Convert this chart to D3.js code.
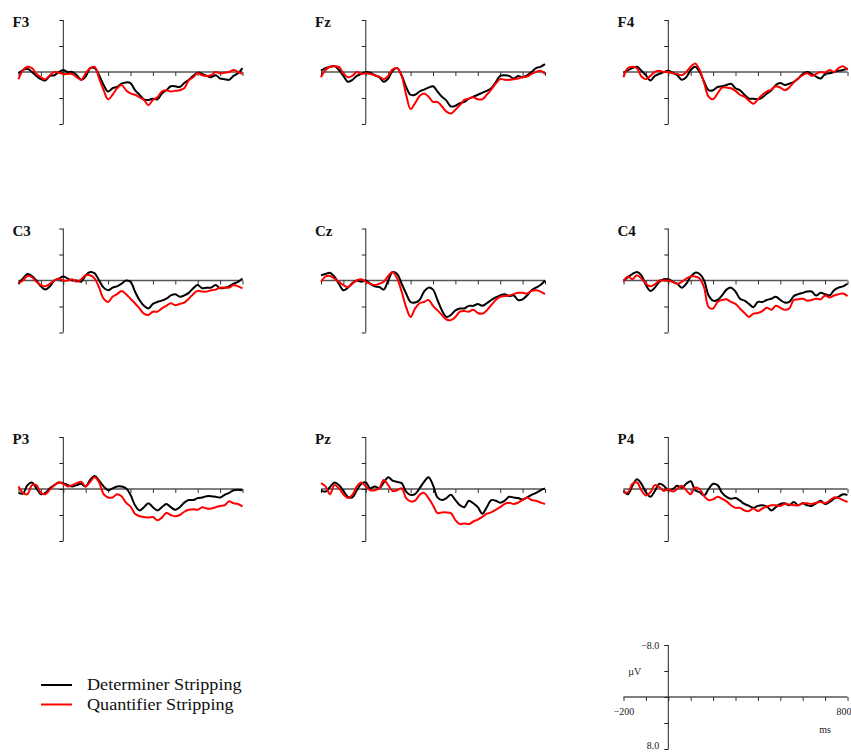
<!DOCTYPE html>
<html>
<head>
<meta charset="utf-8">
<script src="https://cdn.jsdelivr.net/npm/d3@7"></script>
<style>
  body { margin: 0; background: #fff; }
  svg { display: block; font-family: "Liberation Serif", "DejaVu Serif", serif; }
</style>
</head>
<body>
<div id="chart"></div>
<script>
// time points, -200 .. 800 ms every 20 ms
const times = d3.range(-200, 801, 20);

const channels = ['F3', 'Fz', 'F4', 'C3', 'Cz', 'C4', 'P3', 'Pz', 'P4'];
const seriesNames = ['Determiner Stripping', 'Quantifier Stripping'];
const seriesColors = ['#000000', '#ff0000'];

// µV values (negative plotted up), one array per channel and condition
const detF3 = [0.2,-0.3,-0.5,0,0.6,1.1,1.3,0.6,0.5,0,-0.3,0,0,0.5,1.2,0.7,-0.6,-0.6,0.5,2.0,3.0,2.5,2.3,1.8,1.6,1.7,2.8,3.5,4.2,4.3,4.1,4.2,3.3,2.8,2.2,2.2,2.3,1.7,1.2,0.6,0.1,0.3,0.6,0.8,0.5,1.0,1.1,1.2,0.6,0.2,-0.6];
const quaF3 = [1.1,-0.3,-0.8,-0.6,0.3,0.8,1.1,0.5,0,0.1,0.3,0.3,0.3,0.8,1.2,0.2,-0.6,-0.8,1.0,2.8,4.2,3.5,2.5,2.0,2.8,3.3,3.5,3.9,4.3,5.1,4.3,3.9,3.0,2.8,3.0,2.9,2.8,2.5,1.3,0.8,0.2,0.5,0.6,0.5,0,0.2,0.1,0,-0.3,0,0.3];
const detFz = [-0.2,-0.6,-0.8,-0.9,-0.3,0.6,1.5,1.2,0.6,0.3,0,0.1,0.5,0.8,1.5,1.0,-0.2,-0.6,0.5,2.3,3.5,3.5,3.0,2.7,2.4,2.2,3.0,3.8,4.4,5.3,5.2,4.8,4.6,4.1,3.8,3.5,3.2,2.9,2.5,1.6,0.6,0.5,0.6,1.0,0.6,0.8,0.5,0,-0.6,-0.8,-1.2];
const quaFz = [0.8,-0.3,-0.8,-0.9,-0.8,0.2,0.8,0.6,0,0.3,0.2,0.3,0.5,0.7,1.1,0.6,-0.4,-0.6,0.6,3.5,5.7,4.8,3.7,3.3,3.8,4.6,4.6,5.3,6.1,6.4,5.8,5.1,4.3,4.1,3.9,4.2,4.2,3.5,2.7,1.8,1.1,1.2,1.2,1.1,1.0,0.8,0.7,0.3,0,-0.2,0.3];
const detF4 = [0.1,-0.3,-0.6,-0.8,-0.2,0.5,1.3,0.6,0.3,0,-0.2,0.1,0.5,1.2,0.8,-0.3,-0.8,0,1.5,2.8,2.8,2.3,2.2,2.0,1.8,2.5,2.8,3.5,4.1,4.1,4.2,3.9,3.3,2.8,2.0,1.7,2.0,1.8,1.5,1.0,0.3,0,0.3,0.7,1.0,0.3,0.2,0,-0.2,-0.3,-0.6];
const quaF4 = [0.8,-0.6,-0.8,-0.6,0.7,1.1,0.6,0,-0.2,0,0,0.2,0.3,0.5,0,-0.8,-1.3,-0.3,1.7,3.8,4.2,3.3,2.4,2.4,2.5,2.9,3.5,3.8,4.4,4.9,4.2,3.5,3.0,2.7,2.2,2.4,2.8,2.4,1.6,1.0,0.5,0.2,0.6,0.3,0,0.1,-0.3,0,-0.6,-0.9,-0.3];
const detC3 = [0.5,-0.3,-1.0,-0.7,0,0.9,1.4,0.9,0,-0.3,-0.6,-0.3,0,0,0.2,-0.8,-1.3,-1.1,0,1.1,1.5,1.1,0.9,0.5,0,0.2,1.7,3.0,3.9,4.3,3.6,3.3,3.1,2.8,2.3,2.1,2.5,2.3,1.9,1.2,0.7,1.2,1.1,1.1,0.7,1.2,1.1,0.9,0.5,0.2,-0.3];
const quaC3 = [0.4,0,-0.7,-0.5,0.2,0.7,0.9,0.5,0,-0.3,0,0,-0.2,0.2,-0.2,-0.8,-0.8,-0.3,1.1,2.8,3.3,2.5,2.1,1.6,2.1,2.8,3.5,4.3,5.1,5.3,4.8,4.8,4.3,3.9,3.5,3.8,3.6,3.4,2.8,2.1,1.6,1.7,1.7,1.5,1.4,1.1,1.1,1.1,0.7,0.9,1.2];
const detCz = [-0.8,-1.0,-1.2,-0.6,0.5,1.5,1.1,0.4,0,0.2,0,0.5,0.9,1.0,1.4,0,-1.3,-1.0,0.5,2.0,3.3,3.4,3.0,1.7,1.1,1.4,3.0,4.6,5.6,5.3,4.6,4.3,4.3,3.9,3.9,3.6,3.9,3.5,3.0,2.6,2.3,2.1,2.4,2.3,3.0,2.9,2.3,1.5,1.1,0.7,0];
const quaCz = [0.2,-0.6,-0.7,-0.3,0.2,0.7,1.0,0.5,0,-0.2,0.2,0.5,0.7,0.5,0.2,-0.7,-1.3,-0.3,1.7,4.1,5.6,4.3,3.5,3.3,3.0,3.9,4.6,5.3,6.0,6.1,5.6,4.8,4.7,4.8,4.5,5.0,5.1,4.6,3.8,3.0,2.5,2.4,2.3,2.1,1.9,1.9,2.0,1.6,1.5,1.7,2.1];
const detC4 = [0,-0.5,-1.0,-1.3,-0.8,0.7,1.6,1.1,0.2,-0.2,-0.2,0.2,0.5,1.1,0.5,-0.6,-1.2,-1.0,0,2.3,3.1,3.0,2.3,1.4,1.1,1.7,2.8,3.1,3.6,4.1,3.3,3.3,3.0,2.8,2.5,3.0,3.4,3.3,2.4,2.1,1.9,1.7,1.7,2.3,1.9,2.1,2.3,1.5,1.1,0.9,0.5];
const quaC4 = [0.2,-0.6,-0.2,-0.8,-0.3,0.5,0.9,0.6,0,0,0,0.2,0.5,0.2,-0.3,-0.6,-0.6,-0.3,1.1,4.1,4.3,3.3,3.0,2.9,3.3,3.6,4.3,5.0,5.6,5.1,5.0,4.7,4.2,4.5,3.9,4.2,4.5,4.3,3.0,2.9,2.8,3.1,3.0,2.8,2.9,2.3,2.6,2.3,2.1,2.0,2.4];
const detP3 = [0.6,0.7,-0.6,-1.0,-0.1,0.8,0.6,-0.1,-0.6,-1.0,-0.9,-0.6,-0.4,-0.6,-0.8,-0.4,-1.4,-2.0,-1.3,-0.4,0.2,-0.1,-0.4,-0.4,-0.1,0.9,2.5,3.3,2.8,2.2,2.8,3.3,2.8,2.3,2.8,3.2,2.8,2.1,1.7,1.7,1.4,1.3,1.1,1.1,1.2,1.3,0.9,0.6,0.2,0.1,0.2];
const quaP3 = [-0.4,0.6,0.8,-0.6,-0.6,0.6,0.8,0.1,-0.6,-1.0,-0.8,-0.4,-0.6,-0.9,-1.1,-0.4,-1.1,-1.8,-1.0,0.8,1.3,1.3,0.8,1.1,2.1,2.7,3.8,4.2,4.3,4.4,4.3,4.8,4.4,3.7,4.0,4.2,4.0,3.5,3.2,3.1,3.2,2.8,3.0,3.0,2.8,2.6,2.5,1.9,2.2,2.3,2.7];
const detPz = [0.2,0.4,-0.3,-1.0,-0.6,0.3,1.2,1.3,0.2,-0.8,-1.0,-0.1,-0.4,-0.1,-1.0,-1.8,-1.3,-1.1,-0.9,0.4,0.9,0.8,-0.1,-1.1,-1.8,-0.6,1.3,1.7,1.4,0.9,1.7,2.5,2.8,1.8,2.2,2.8,3.8,2.8,1.7,1.8,2.1,1.8,1.2,1.3,1.4,1.6,1.3,0.9,0.6,0.2,-0.1];
const quaPz = [-0.9,-0.4,0.8,-0.6,-0.1,0.8,1.4,0.9,-0.4,-1.0,-0.4,0.2,0.2,-0.1,-1.4,-0.6,0.3,0.2,-0.1,1.4,1.9,1.8,0.9,0.6,1.4,2.5,3.7,3.6,3.6,3.7,4.8,5.4,5.3,5.4,5.0,4.7,4.3,3.8,3.6,3.2,2.8,2.3,2.1,2.3,2.1,1.7,1.3,1.7,1.8,2.1,2.3];
const detP4 = [0.3,0.8,-0.5,-1.5,-0.8,0.5,1.2,0.3,-0.8,-0.5,0.2,0,-0.5,-0.2,-0.8,-1.2,0.2,0.5,1.0,0,-0.8,-0.6,0.6,1.2,1.5,1.4,1.8,2.3,2.6,2.9,2.6,2.5,2.7,3.3,2.8,2.3,2.2,2.5,2.0,2.5,2.2,2.5,2.6,2.2,1.8,2.3,2.0,1.5,1.2,0.8,0.9];
const quaP4 = [0.5,0.5,-0.8,-1.0,0.2,1.0,0.5,-0.6,-0.3,0.3,0,0.4,0,-0.5,0.2,0.8,-0.2,0,1.1,1.7,1.6,1.2,1.5,1.9,2.5,2.9,2.9,3.3,3.4,3.0,3.4,3.0,2.7,2.5,2.5,2.6,2.3,2.4,2.5,2.5,2.2,2.2,2.3,2.1,2.0,2.2,1.8,1.3,1.4,1.7,2.0];

const waves = {
  F3: [detF3, quaF3], Fz: [detFz, quaFz], F4: [detF4, quaF4],
  C3: [detC3, quaC3], Cz: [detCz, quaCz], C4: [detC4, quaC4],
  P3: [detP3, quaP3], Pz: [detPz, quaPz], P4: [detP4, quaP4]
};

// axis ticks
const yTicks = [-8, -4, 0, 4, 8];
const xTicks = d3.range(-200, 801, 100);

const W = 851, H = 752;
const colX = [18.5, 321, 623.5];   // left edge (-200 ms) of each column
const rowY = [72, 280.5, 489, 697]; // zero line of each row
const plotW = 224, halfH = 52;

const svg = d3.select('#chart').append('svg')
  .attr('width', W).attr('height', H);

function panel(cx, zy) {
  const x = d3.scaleLinear().domain([-200, 800]).range([cx, cx + plotW]);
  const y = d3.scaleLinear().domain([-8, 8]).range([zy - halfH, zy + halfH]);
  return {x, y};
}

function drawAxes(g, sc, withLabels) {
  const xAxis = d3.axisBottom(sc.x).tickValues(xTicks).tickSize(4).tickPadding(7)
    .tickFormat(d => withLabels && (d === -200 || d === 800) ? (d < 0 ? '\u2212' + Math.abs(d) : d) : '');
  const gx = g.append('g').attr('transform', 'translate(0,' + sc.y(0) + ')').call(xAxis);
  gx.select('.domain').attr('d', 'M' + sc.x(-200) + ',0H' + sc.x(800)).attr('stroke', '#555').attr('stroke-width', 1.3);
  gx.selectAll('.tick line').attr('stroke', '#333');
  gx.selectAll('text').attr('font-size', 10).attr('fill', '#222').attr('font-family', 'Liberation Serif');
  // keep the last label inside the page
  gx.selectAll('.tick').filter(d => d === 800).select('text').attr('text-anchor', 'end').attr('x', 851 - sc.x(800));

  const yAxis = d3.axisLeft(sc.y).tickValues(yTicks).tickSize(4).tickPadding(5)
    .tickFormat(d => withLabels && Math.abs(d) === 8 ? (d < 0 ? '\u22128.0' : '8.0') : '');
  const gy = g.append('g').attr('transform', 'translate(' + sc.x(0) + ',0)').call(yAxis);
  gy.select('.domain').attr('d', 'M0,' + sc.y(-8) + 'V' + sc.y(8)).attr('stroke', '#222');
  gy.selectAll('.tick line').attr('stroke', '#222');
  gy.selectAll('text').attr('font-size', 10).attr('fill', '#222').attr('font-family', 'Liberation Serif');
  // bottom label sits at the page edge, lift it a touch
  gy.selectAll('.tick').filter(d => d === 8).select('text').attr('dy', '-0.05em');
}

channels.forEach((ch, i) => {
  const col = i % 3, row = Math.floor(i / 3);
  const sc = panel(colX[col], rowY[row]);
  const g = svg.append('g').attr('class', 'panel');
  drawAxes(g, sc, false);

  const line = d3.line()
    .x((d, k) => sc.x(times[k]))
    .y(d => sc.y(d))
    .curve(d3.curveCatmullRom.alpha(0.5));

  waves[ch].forEach((vals, s) => {
    g.append('path')
      .attr('d', line(vals))
      .attr('fill', 'none')
      .attr('stroke', seriesColors[s])
      .attr('stroke-width', 2)
      .attr('stroke-linejoin', 'round');
  });

  g.append('text')
    .attr('x', colX[col] - 6)
    .attr('y', rowY[row] - 45)
    .attr('font-size', 15)
    .attr('font-weight', 'bold')
    .attr('fill', '#111')
    .text(ch);
});

// scale bar panel
const sb = panel(colX[2], rowY[3]);
const sbG = svg.append('g').attr('class', 'scalebar');
drawAxes(sbG, sb, true);
sbG.append('text').attr('x', sb.x(-150)).attr('y', sb.y(-4) + 4)
  .attr('text-anchor', 'middle').attr('font-size', 10).attr('fill', '#222').text('\u00b5V');
sbG.append('text').attr('x', sb.x(700)).attr('y', sb.y(5) + 3)
  .attr('text-anchor', 'middle').attr('font-size', 10).attr('fill', '#222').text('ms');

// legend
const leg = svg.append('g').attr('class', 'legend');
seriesNames.forEach((name, s) => {
  const ly = 685 + s * 19.5;
  leg.append('line').attr('x1', 41).attr('x2', 72).attr('y1', ly).attr('y2', ly)
    .attr('stroke', seriesColors[s]).attr('stroke-width', 2);
  leg.append('text')
    .attr('transform', 'translate(87,' + (ly + 5) + ') scale(1.1,1)')
    .attr('font-size', 16.5).attr('fill', '#111').text(name);
});
</script>
</body>
</html>
